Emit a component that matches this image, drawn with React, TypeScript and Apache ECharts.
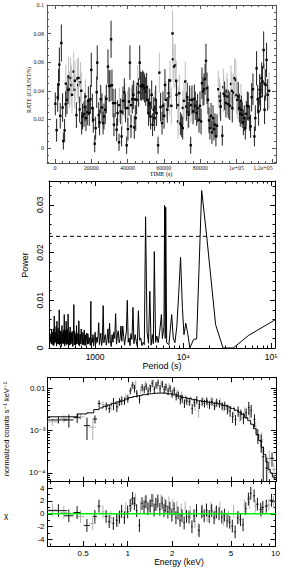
import React, { useEffect, useRef } from 'react';
import * as echarts from 'echarts';

// ---------------- Light curve (top panel) ----------------
// [time (s), rate (count/s), error]
const lcBlack: number[][] = [
  [180,0.0309,0.008],[900,0.0125,0.008],[1500,0.0353,0.010],[2000,0.0444,0.011],[2400,0.0583,0.012],
  [2900,0.0225,0.009],[3500,0.0734,0.013],[4200,0.0283,0.010],[4600,0.0049,0.006],[5300,0.0123,0.008],
  [5900,0.0307,0.009],[6600,0.0337,0.010],[7200,0.0407,0.010],[11800,0.0230,0.009],[13600,0.0269,0.009],
  [14700,0.0174,0.008],[15200,0.0220,0.009],[16000,0.0237,0.009],[16500,0.0286,0.010],[17100,0.0209,0.009],
  [17800,0.0249,0.009],[18400,0.0330,0.010],[18900,0.0244,0.009],[19500,0.0341,0.010],[20000,0.0546,0.012],
  [20600,0.0279,0.010],[21100,0.0197,0.009],[21900,0.0030,0.006],[22400,0.0139,0.008],[23000,0.0390,0.011],
  [23300,0.0597,0.012],[24100,0.0230,0.009],[24600,0.0179,0.009],[25200,0.0341,0.010],[25900,0.0283,0.010],
  [26500,0.0174,0.008],[27000,0.0220,0.009],[27700,0.0267,0.010],[28300,0.0344,0.010],[29200,0.0569,0.012],
  [29800,0.0434,0.011],[30300,0.0434,0.011],[30900,0.0760,0.013],[31400,0.0439,0.011],[32000,0.0314,0.010],
  [32500,0.0163,0.008],[33200,0.0314,0.010],[34000,0.0128,0.008],[34500,0.0244,0.009],[35300,0.0040,0.006],
  [36200,0.0256,0.009],[36700,0.0081,0.007],[37500,0.0330,0.010],[38200,0.0388,0.010],[38900,0.0279,0.010],
  [39500,0.0019,0.006],[40200,0.0132,0.008],[40800,0.0325,0.010],[41300,0.0597,0.012],[41900,0.0151,0.008],
  [42600,0.0341,0.010],[43200,0.0372,0.010],[43700,0.0144,0.008],[44500,0.0209,0.009],[45000,0.0337,0.010],
  [46100,0.0388,0.010],[46700,0.0597,0.012],[47200,0.0434,0.010],[47800,0.0430,0.010],[48300,0.0441,0.010],
  [48900,0.0434,0.010],[49400,0.0418,0.010],[50000,0.0395,0.010],[50500,0.0425,0.010],[51100,0.0337,0.010],
  [51600,0.0244,0.009],[52200,0.0314,0.010],[52700,0.0220,0.009],[53300,0.0372,0.010],[53800,0.0163,0.008],
  [54400,0.0267,0.009],[54900,0.0209,0.009],[55500,0.0337,0.010],[56000,0.0244,0.009],[56800,0.0019,0.006],
  [58200,0.0286,0.010],[59000,0.0174,0.008],[59500,0.0295,0.010],[60100,0.0225,0.009],[60600,0.0441,0.011],
  [61900,0.0267,0.009],[62600,0.0383,0.010],[67000,0.0372,0.010],[69100,0.0170,0.008],[69800,0.0156,0.008],
  [70400,0.0139,0.008],[72400,0.0290,0.010],[72900,0.0355,0.010],[73700,0.0232,0.009],[74200,0.0337,0.010],
  [74800,0.0019,0.006],[75500,0.0337,0.010],[76100,0.0256,0.009],[76800,0.0344,0.010],[77300,0.0295,0.010],
  [78100,0.0244,0.009],[78600,0.0279,0.010],[79400,0.0197,0.009],[79900,0.0295,0.010],[80500,0.0186,0.009],
  [81000,0.0453,0.011],[81600,0.0395,0.010],[82100,0.0411,0.011],[82700,0.0481,0.011],[83200,0.0609,0.012],
  [83800,0.0418,0.011],[84300,0.0337,0.010],[84900,0.0193,0.009],[85400,0.0139,0.008],[86000,0.0225,0.009],
  [86500,0.0109,0.008],[87100,0.0209,0.009],[87600,0.0132,0.008],[88200,0.0163,0.008],[88700,0.0081,0.007],
  [89300,0.0156,0.008],[91300,0.0290,0.010],[92200,0.0086,0.007],[93500,0.0365,0.010],[94200,0.0314,0.010],
  [95500,0.0307,0.010],[96300,0.0295,0.010],[97700,0.0279,0.010],[101000,0.0360,0.010],[101600,0.0279,0.010],
  [102100,0.0239,0.009],[102700,0.0267,0.010],[103200,0.0232,0.009],[103800,0.0179,0.009],[104300,0.0209,0.009],
  [104900,0.0139,0.008],[105400,0.0239,0.009],[106000,0.0295,0.010],[106500,0.0290,0.010],[107300,0.0209,0.009],
  [107800,0.0151,0.008],[108400,0.0355,0.010],[109100,0.0411,0.011],[109900,0.0081,0.007],[110400,0.0209,0.009],
  [111100,0.0557,0.012],[111700,0.0341,0.010],[112200,0.0256,0.010],[112800,0.0407,0.011],[113300,0.0360,0.010],
  [113900,0.0488,0.011],[114400,0.0465,0.011],[115000,0.0685,0.013],[115500,0.0267,0.010],[116100,0.0441,0.011],
  [116600,0.0616,0.012],[117200,0.0372,0.011],
];
const lcGray: number[][] = [
  [6000,0.0450,0.013],[7500,0.0500,0.014],[8100,0.0409,0.013],[8600,0.0490,0.014],[9000,0.0440,0.014],
  [9400,0.0372,0.013],[10300,0.0534,0.014],[10800,0.0407,0.013],[11000,0.0470,0.014],[12300,0.0486,0.014],
  [12800,0.0440,0.013],[13000,0.0490,0.014],[14100,0.0460,0.014],[14500,0.0400,0.013],[16800,0.0360,0.012],
  [35500,0.0300,0.012],[37000,0.0250,0.012],[38500,0.0330,0.012],[40000,0.0280,0.012],[42000,0.0300,0.012],
  [44000,0.0340,0.013],[45600,0.0448,0.013],[52000,0.0300,0.012],[55000,0.0280,0.012],[57500,0.0527,0.014],
  [61200,0.0337,0.013],[63000,0.0360,0.013],[63400,0.0472,0.014],[64100,0.0295,0.013],[64800,0.0801,0.016],
  [65000,0.0620,0.015],[65600,0.0569,0.015],[66300,0.0578,0.015],[66800,0.0470,0.014],[67800,0.0186,0.012],
  [68000,0.0300,0.013],[68500,0.0383,0.013],[70500,0.0280,0.012],[71100,0.0330,0.013],[71800,0.0465,0.014],
  [73000,0.0250,0.012],[75000,0.0300,0.012],[90000,0.0411,0.013],[90700,0.0360,0.013],[91000,0.0330,0.012],
  [92800,0.0425,0.013],[93000,0.0380,0.013],[94800,0.0395,0.013],[95000,0.0360,0.013],[97000,0.0448,0.013],
  [97500,0.0400,0.013],[98300,0.0388,0.013],[99000,0.0488,0.014],[99700,0.0476,0.014],[100000,0.0370,0.013],
  [100500,0.0337,0.013],[102500,0.0330,0.012],[113000,0.0380,0.013],[115500,0.0450,0.014],[118000,0.0400,0.013],
];
const lcXTicks = [0, 20000, 40000, 60000, 80000, 100000, 120000];
const lcXTickLabels = ['0', '20000', '40000', '60000', '80000', '1e+05', '1.2e+05'];
const lcXMinor = [-4000,4000,8000,12000,16000,24000,28000,32000,36000,44000,48000,52000,56000,64000,68000,72000,76000,84000,88000,92000,96000,104000,108000,112000,116000];
const lcYTicks = [0, 0.02, 0.04, 0.06, 0.08, 0.1];
const lcYTickLabels = ['0', '0.02', '0.04', '0.06', '0.08', '0.1'];
const lcYMinor = [-0.01,-0.005,0.005,0.01,0.015,0.025,0.03,0.035,0.045,0.05,0.055,0.065,0.07,0.075,0.085,0.09,0.095];

// ---------------- Periodogram (middle panel) ----------------
// [period (s), power]
const pgData: number[][] = [
  [310,0.0012],[313,0.0021],[316,0.0030],[318,0.0009],[320,0.0039],[322,0.0027],[324,0.0008],[326,0.0013],
  [328,0.0026],[330,0.0033],[332,0.0015],[334,0.0006],[336,0.0040],[338,0.0024],[340,0.0005],[342,0.0019],
  [344,0.0067],[346,0.0035],[348,0.0010],[350,0.0009],[352,0.0033],[354,0.0026],[356,0.0018],[358,0.0012],
  [361,0.0045],[363,0.0030],[365,0.0004],[367,0.0017],[369,0.0056],[371,0.0029],[373,0.0012],[375,0.0009],
  [378,0.0030],[380,0.0041],[383,0.0008],[385,0.0016],[388,0.0022],[390,0.0028],[392,0.0080],[394,0.0011],
  [396,0.0006],[398,0.0025],[401,0.0035],[403,0.0008],[406,0.0015],[408,0.0036],[411,0.0028],[413,0.0013],
  [416,0.0003],[418,0.0027],[421,0.0047],[423,0.0010],[426,0.0011],[428,0.0032],[431,0.0025],[433,0.0015],
  [436,0.0009],[439,0.0022],[442,0.0038],[444,0.0008],[447,0.0070],[449,0.0028],[452,0.0004],[455,0.0017],
  [458,0.0029],[461,0.0037],[464,0.0014],[467,0.0009],[470,0.0056],[473,0.0026],[476,0.0007],[479,0.0012],
  [482,0.0031],[485,0.0040],[488,0.0018],[491,0.0008],[494,0.0071],[497,0.0021],[500,0.0005],[503,0.0015],
  [507,0.0026],[510,0.0034],[514,0.0012],[517,0.0006],[521,0.0044],[524,0.0027],[528,0.0008],[531,0.0013],
  [535,0.0023],[538,0.0032],[542,0.0015],[546,0.0009],[550,0.0035],[554,0.0024],[558,0.0003],[562,0.0014],
  [566,0.0028],[570,0.0030],[574,0.0091],[578,0.0006],[582,0.0010],[586,0.0035],[590,0.0024],[594,0.0013],
  [598,0.0006],[602,0.0022],[607,0.0030],[611,0.0008],[616,0.0047],[620,0.0026],[625,0.0009],[629,0.0016],
  [634,0.0021],[639,0.0031],[644,0.0014],[649,0.0007],[654,0.0057],[659,0.0023],[664,0.0004],[669,0.0012],
  [674,0.0026],[679,0.0029],[685,0.0011],[690,0.0008],[696,0.0040],[701,0.0024],[707,0.0018],[712,0.0011],
  [718,0.0007],[724,0.0033],[730,0.0029],[736,0.0007],[742,0.0013],[748,0.0021],[754,0.0038],[760,0.0015],
  [766,0.0005],[772,0.0028],[779,0.0022],[785,0.0006],[792,0.0016],[799,0.0025],[806,0.0031],[813,0.0012],
  [820,0.0008],[827,0.0030],[834,0.0024],[841,0.0009],[849,0.0012],[856,0.0022],[864,0.0019],[872,0.0014],
  [880,0.0006],[887,0.0027],[895,0.0098],[903,0.0005],[911,0.0010],[920,0.0018],[928,0.0021],[936,0.0012],
  [945,0.0028],[953,0.0024],[962,0.0004],[971,0.0009],[980,0.0017],[990,0.0020],[1000,0.0033],[1020,0.0009],
  [1040,0.0022],[1060,0.0012],[1080,0.0026],[1100,0.0053],[1120,0.0007],[1140,0.0019],[1160,0.0031],[1185,0.0005],
  [1210,0.0016],[1235,0.0089],[1260,0.0011],[1285,0.0024],[1310,0.0028],[1340,0.0006],[1370,0.0018],[1400,0.0040],
  [1430,0.0010],[1460,0.0052],[1490,0.0015],[1525,0.0003],[1560,0.0028],[1595,0.0012],[1630,0.0033],[1670,0.0020],
  [1710,0.0072],[1750,0.0008],[1790,0.0026],[1830,0.0036],[1875,0.0011],[1920,0.0019],[1965,0.0046],[2010,0.0014],
  [2060,0.0046],[2110,0.0024],[2160,0.0006],[2210,0.0021],[2265,0.0035],[2320,0.0100],[2375,0.0012],[2430,0.0021],
  [2490,0.0005],[2550,0.0030],[2620,0.0018],[2690,0.0085],[2760,0.0009],[2850,0.0028],[2930,0.0014],[3010,0.0004],
  [3100,0.0078],[3190,0.0016],[3300,0.0021],[3400,0.0005],[3520,0.0012],[3620,0.0007],[3740,0.0275],[3890,0.0033],
  [4040,0.0010],[4180,0.0119],[4320,0.0006],[4460,0.0028],[4580,0.0009],[4700,0.0202],[4860,0.0012],[5020,0.0025],
  [5200,0.0011],[5400,0.0033],[5660,0.0070],[5800,0.0020],[6050,0.0045],[6150,0.0299],[6250,0.0020],[6330,0.0295],
  [6490,0.0011],[6880,0.0007],[7150,0.0040],[7400,0.0070],[7710,0.0021],[8050,0.0011],[8460,0.0045],[8880,0.0112],
  [9330,0.0190],[9790,0.0085],[10200,0.0028],[10700,0.0052],[11300,0.0028],[11900,0.0000],[13100,0.0018],
  [14200,0.0019],[16200,0.0330],[18400,0.0237],[23300,0.0049],[28300,0.0000],[36900,0.0000],[54800,0.0026],
  [110000,0.0059],
];
const pgThreshold = 0.0234;
const pgXTicks = [1000, 10000, 100000];
const pgXTickLabels = ['1000', '10⁴', '10⁵'];
const pgXMinor = [400,500,600,700,800,900,2000,3000,4000,5000,6000,7000,8000,9000,20000,30000,40000,50000,60000,70000,80000,90000];
const pgYTicks = [0, 0.01, 0.02, 0.03];
const pgYTickLabels = ['0', '0.01', '0.02', '0.03'];
const pgYMinor = [0.002,0.004,0.006,0.008,0.012,0.014,0.016,0.018,0.022,0.024,0.026,0.028,0.032,0.034];

// ---------------- Spectrum (bottom panel) ----------------
// [energy (keV), half width, normalized counts, error]
const specBlack: number[][] = [
  [0.34,0.05,0.00177,0.0003],[0.40,0.03,0.00177,0.0006],[0.455,0.025,0.0020,0.0005],[0.53,0.025,0.0013,0.0007],
  [0.60,0.02,0.00186,0.0004],[0.64,0.015,0.00436,0.0008],[0.715,0.015,0.00377,0.0008],[0.75,0.012,0.0033,0.0007],
  [0.80,0.012,0.0044,0.0014],[0.843,0.012,0.0036,0.0009],[0.88,0.012,0.0048,0.001],[0.91,0.012,0.0052,0.0012],
  [0.95,0.012,0.0050,0.001],[1.0,0.015,0.0057,0.0012],[1.04,0.015,0.0086,0.0015],[1.08,0.015,0.0118,0.0022],
  [1.11,0.015,0.0098,0.002],[1.15,0.015,0.0075,0.0015],[1.2,0.015,0.0055,0.0012],[1.25,0.015,0.0104,0.002],
  [1.29,0.015,0.0093,0.0018],[1.33,0.015,0.011,0.002],[1.37,0.015,0.0085,0.0018],[1.42,0.015,0.0098,0.002],
  [1.46,0.015,0.0129,0.0025],[1.51,0.015,0.0092,0.0018],[1.55,0.015,0.0118,0.0022],[1.60,0.015,0.0133,0.0025],
  [1.65,0.02,0.0098,0.002],[1.71,0.02,0.0124,0.0022],[1.76,0.02,0.0092,0.0018],[1.81,0.02,0.0107,0.002],
  [1.87,0.02,0.0085,0.0017],[1.93,0.02,0.0098,0.0018],[1.99,0.02,0.0074,0.0015],[2.06,0.025,0.0087,0.0016],
  [2.12,0.025,0.0064,0.0013],[2.19,0.025,0.0069,0.0014],[2.26,0.025,0.0053,0.0012],[2.33,0.025,0.0057,0.0012],
  [2.41,0.03,0.0044,0.001],[2.5,0.03,0.005,0.001],[2.6,0.03,0.0048,0.001],[2.72,0.035,0.0033,0.0009],
  [2.81,0.035,0.0046,0.001],[2.92,0.035,0.0053,0.0011],[3.04,0.04,0.0041,0.0009],[3.17,0.04,0.0048,0.001],
  [3.29,0.04,0.0044,0.0009],[3.41,0.04,0.005,0.001],[3.56,0.045,0.0041,0.0009],[3.70,0.045,0.0048,0.001],
  [3.84,0.045,0.0038,0.0008],[3.98,0.05,0.0046,0.001],[4.15,0.05,0.0043,0.0009],[4.33,0.05,0.0038,0.0008],
  [4.51,0.06,0.0039,0.0009],[4.7,0.06,0.0032,0.0008],[4.9,0.06,0.0029,0.0008],[5.1,0.07,0.0021,0.0006],
  [5.33,0.07,0.0018,0.0005],[5.55,0.07,0.0029,0.0008],[5.79,0.08,0.0024,0.0007],[6.03,0.08,0.002,0.0006],
  [6.29,0.08,0.0026,0.0007],[6.55,0.09,0.0035,0.0012],[6.8,0.1,0.0030,0.001],[7.16,0.12,0.0018,0.0006],
  [7.54,0.15,0.00078,0.0003],[7.94,0.15,0.00055,0.00025],[8.2,0.15,0.00024,0.00018],[8.66,0.2,0.000129,0.0001],
  [9.4,0.3,0.00022,0.00008],
];
const resBlackChi: number[] = [
  0.5,-0.3,0.2,-1.8,-0.4,1.2,-0.4,-1.2,-1.5,-1.0,-0.5,0.4,-0.6,0.3,1.3,2.4,1.6,0.5,-1.8,1.6,1.1,1.9,0.8,1.2,
  2.1,0.6,1.5,2.0,0.7,1.7,0.5,1.2,0.3,0.9,-0.2,0.8,-0.6,0.1,-1.0,-0.3,-1.4,-0.4,-0.5,-2.0,-0.3,0.5,-2.6,0.3,
  -0.3,0.6,-0.4,0.5,-0.6,0.3,0.0,-0.5,-0.2,-1.1,-1.3,-1.9,-2.8,-0.6,-0.9,-1.7,0.8,2.3,3.2,2.8,1.5,0.7,1.0,1.2,2.1,
];
const specGray: number[][] = [
  [0.31,0.03,0.0016,0.0003],[0.37,0.02,0.0019,0.0004],[0.48,0.03,0.0021,0.0003],[0.58,0.03,0.0012,0.0006],
  [0.68,0.02,0.0041,0.0008],[0.77,0.015,0.0038,0.0009],[0.86,0.015,0.0042,0.0009],[0.97,0.015,0.0062,0.0012],
  [1.06,0.015,0.0105,0.002],[1.13,0.015,0.0125,0.0025],[1.22,0.015,0.0090,0.0018],[1.31,0.015,0.0123,0.0025],
  [1.40,0.015,0.0105,0.002],[1.49,0.015,0.0135,0.0025],[1.58,0.015,0.0112,0.002],[1.68,0.02,0.0130,0.0025],
  [1.78,0.02,0.0102,0.002],[1.9,0.02,0.0112,0.002],[2.02,0.025,0.0090,0.0017],[2.15,0.025,0.0078,0.0015],
  [2.3,0.025,0.0068,0.0014],[2.45,0.03,0.0058,0.0012],[2.65,0.03,0.0052,0.0011],[2.85,0.035,0.0038,0.0009],
  [3.0,0.04,0.0029,0.0009],[3.2,0.04,0.0052,0.001],[3.45,0.04,0.0044,0.001],[3.65,0.045,0.0052,0.001],
  [3.9,0.05,0.0042,0.0009],[4.2,0.05,0.0048,0.001],[4.45,0.06,0.0036,0.0008],[4.8,0.06,0.0034,0.0008],
  [5.2,0.07,0.0030,0.0008],[5.65,0.08,0.0022,0.0006],[6.15,0.08,0.0028,0.0008],[6.65,0.1,0.0026,0.0009],
  [7.3,0.15,0.0012,0.0004],[8.0,0.2,0.0006,0.0003],[9.0,0.3,0.00022,0.00012],[9.7,0.3,0.00012,0.00005],
];
const resGrayChi: number[] = [
  0.6,0.2,-0.4,-1.5,0.3,-0.6,-1.0,0.8,1.6,2.2,1.0,1.8,1.3,2.0,1.4,2.1,1.5,1.7,1.3,1.0,0.6,0.9,0.2,-1.2,
  -2.4,0.5,-0.3,0.9,0.0,1.0,-0.8,-0.5,0.4,-0.5,1.2,1.8,1.2,0.3,1.4,1.8,
];
const modelE: number[] = [0.29,0.35,0.42,0.5,0.56,0.62,0.66,0.70,0.75,0.80,0.86,0.92,0.98,1.05,1.12,1.2,1.3,1.4,1.5,1.6,1.75,1.9,2.05,2.2,2.4,2.6,2.8,3.0,3.3,3.6,3.9,4.2,4.5,4.8,5.1,5.4,5.7,6.0,6.3,6.6,6.9,7.2,7.5,7.8,8.1,8.4,8.7,9.0,9.3,9.6,10.0];
const modelF: number[] = [0.0021,0.0021,0.0021,0.00245,0.0026,0.0031,0.0034,0.0037,0.0040,0.0043,0.0047,0.0050,0.0055,0.0060,0.0063,0.0066,0.0070,0.0073,0.0075,0.0076,0.0076,0.0073,0.0069,0.0065,0.0060,0.0057,0.0053,0.0050,0.0048,0.0046,0.0044,0.0042,0.0039,0.0036,0.0033,0.0030,0.0027,0.0024,0.0020,0.0017,0.0014,0.0011,0.00080,0.00058,0.00040,0.00027,0.00018,0.00012,0.00010,0.00008,0.00007];
const specXTicks = [0.5, 1, 2, 5, 10];
const specXTickLabels = ['0.5', '1', '2', '5', '10'];
const specXMinor = [0.3,0.4,0.6,0.7,0.8,0.9,3,4,6,7,8,9];
const specYTicks = [1e-4, 1e-3, 1e-2];
const specYTickLabels = ['10⁻⁴', '10⁻³', '0.01'];
const specYMinor = [7e-5,8e-5,9e-5,2e-4,3e-4,4e-4,5e-4,6e-4,7e-4,8e-4,9e-4,2e-3,3e-3,4e-3,5e-3,6e-3,7e-3,8e-3,9e-3];
const resYTicks = [-4, -2, 0, 2, 4];
const resYTickLabels = ['-4', '-2', '0', '2', '4'];
const resYMinor = [-3, -1, 1, 3];

const SERIF = '"Liberation Serif", "DejaVu Serif", serif';
const SANS = '"Liberation Sans", Arial, "DejaVu Sans", sans-serif';

const LC = { xMin: -4400, xMax: 121800, yMin: -0.0105, yMax: 0.1 };
const PG = { xMin: 300, xMax: 110000, yMin: 0, yMax: 0.035 };
const SP = { xMin: 0.287, xMax: 10, yMin: 6.2e-5, yMax: 0.0179 };
const RS = { yMin: -5, yMax: 5 };

function nearestLabel(ticks: number[], labels: string[], v: number, log: boolean) {
  let best = 0;
  let bd = Infinity;
  ticks.forEach((t, i) => {
    const d = log ? Math.abs(Math.log10(t) - Math.log10(v)) : Math.abs(t - v);
    if (d < bd) { bd = d; best = i; }
  });
  return labels[best];
}

function buildOption() {
  const grids: any[] = [];
  const xAxes: any[] = [];
  const yAxes: any[] = [];
  const series: any[] = [];

  function frame(s: any) {
    const g = grids.length;
    grids.push({ ...s.rect, show: false });
    grids.push({ ...s.rect, show: false });
    const xi = xAxes.length;
    const yi = yAxes.length;
    const ax = (type: string, min: number, max: number, gridIndex: number, position: string, ticks: number[], len: number, showLine: boolean, label: any) => ({
      type, min, max, gridIndex, position,
      splitLine: { show: false }, splitArea: { show: false }, minorTick: { show: false }, minorSplitLine: { show: false },
      axisLine: { show: showLine, onZero: false, lineStyle: { color: s.color, width: 1 } },
      axisTick: { show: true, inside: true, length: len, customValues: ticks, lineStyle: { color: s.color, width: 1 } },
      axisLabel: label ? { show: true, ...label } : { show: false },
      axisPointer: { show: false },
      silent: true,
    });
    xAxes.push(ax(s.xType, s.xMin, s.xMax, g, 'bottom', s.xMajor, s.majLen, true, s.xLabel));
    xAxes.push(ax(s.xType, s.xMin, s.xMax, g, 'top', s.xMajor, s.majLen, true, null));
    xAxes.push(ax(s.xType, s.xMin, s.xMax, g + 1, 'bottom', s.xMinor, s.minLen, false, null));
    xAxes.push(ax(s.xType, s.xMin, s.xMax, g + 1, 'top', s.xMinor, s.minLen, false, null));
    yAxes.push(ax(s.yType, s.yMin, s.yMax, g, 'left', s.yMajor, s.majLen, true, s.yLabel));
    yAxes.push(ax(s.yType, s.yMin, s.yMax, g, 'right', s.yMajor, s.majLen, true, null));
    yAxes.push(ax(s.yType, s.yMin, s.yMax, g + 1, 'left', s.yMinor, s.minLen, false, null));
    yAxes.push(ax(s.yType, s.yMin, s.yMax, g + 1, 'right', s.yMinor, s.minLen, false, null));
    return { xi, yi };
  }

  // ---- Panel 1: light curve
  const p1 = frame({
    rect: { left: 47, top: 5, width: 229, height: 158 }, color: '#555', majLen: 4, minLen: 2,
    xType: 'value', xMin: LC.xMin, xMax: LC.xMax, yType: 'value', yMin: LC.yMin, yMax: LC.yMax,
    xMajor: lcXTicks, xMinor: lcXMinor, yMajor: lcYTicks, yMinor: lcYMinor,
    xLabel: { customValues: lcXTicks, formatter: (v: number) => nearestLabel(lcXTicks, lcXTickLabels, v, false), fontFamily: SERIF, fontSize: 6, color: '#222', margin: 2, alignMaxLabel: 'right' },
    yLabel: { customValues: lcYTicks, formatter: (v: number) => nearestLabel(lcYTicks, lcYTickLabels, v, false), fontFamily: SERIF, fontSize: 6, color: '#222', margin: 3 },
  });
  const lcRender = (color: string) => (params: any, api: any) => {
    const t = api.value(0), r = api.value(1), e = api.value(2);
    const top = api.coord([t, Math.min(r + e, LC.yMax)]);
    const bot = api.coord([t, Math.max(r - e, LC.yMin)]);
    const c = api.coord([t, r]);
    return {
      type: 'group',
      children: [
        { type: 'line', shape: { x1: top[0], y1: top[1], x2: bot[0], y2: bot[1] }, style: { stroke: color, lineWidth: 1 } },
        { type: 'rect', shape: { x: c[0] - 1.2, y: c[1] - 1.2, width: 2.4, height: 2.4 }, style: { fill: '#000' } },
      ],
    };
  };
  series.push({ type: 'custom', xAxisIndex: p1.xi, yAxisIndex: p1.yi, data: lcGray, encode: { x: 0, y: 1 }, renderItem: lcRender('#bdbdbd'), silent: true, z: 3 });
  series.push({ type: 'custom', xAxisIndex: p1.xi, yAxisIndex: p1.yi, data: lcBlack, encode: { x: 0, y: 1 }, renderItem: lcRender('#1e1e1e'), silent: true, z: 4 });

  // ---- Panel 2: periodogram
  const p2 = frame({
    rect: { left: 49, top: 181, width: 226, height: 167 }, color: '#000', majLen: 5, minLen: 2.5,
    xType: 'log', xMin: PG.xMin, xMax: PG.xMax, yType: 'value', yMin: PG.yMin, yMax: PG.yMax,
    xMajor: pgXTicks, xMinor: pgXMinor, yMajor: pgYTicks, yMinor: pgYMinor,
    xLabel: { customValues: pgXTicks, formatter: (v: number) => nearestLabel(pgXTicks, pgXTickLabels, v, true), fontFamily: SANS, fontSize: 8.5, color: '#000', margin: 4 },
    yLabel: { customValues: pgYTicks, rotate: 90, formatter: (v: number) => nearestLabel(pgYTicks, pgYTickLabels, v, false), fontFamily: SANS, fontSize: 8.5, color: '#000', margin: 5 },
  });
  series.push({ type: 'line', xAxisIndex: p2.xi, yAxisIndex: p2.yi, data: pgData, symbol: 'none', showSymbol: false, lineStyle: { color: '#000', width: 1 }, silent: true, z: 3 });
  series.push({ type: 'line', xAxisIndex: p2.xi, yAxisIndex: p2.yi, data: [[PG.xMin, pgThreshold], [PG.xMax, pgThreshold]], symbol: 'none', lineStyle: { color: '#000', width: 1, type: [4, 3] }, silent: true, z: 4 });

  // ---- Panel 3a: spectrum
  const p3 = frame({
    rect: { left: 47.5, top: 377.3, width: 228.5, height: 104.4 }, color: '#000', majLen: 5, minLen: 2.5,
    xType: 'log', xMin: SP.xMin, xMax: SP.xMax, yType: 'log', yMin: SP.yMin, yMax: SP.yMax,
    xMajor: specXTicks, xMinor: specXMinor, yMajor: specYTicks, yMinor: specYMinor,
    xLabel: null,
    yLabel: { customValues: specYTicks, formatter: (v: number) => nearestLabel(specYTicks, specYTickLabels, v, true), fontFamily: SANS, fontSize: 8, color: '#000', margin: 2 },
  });
  const crossRender = (color: string, yMin: number, yMax: number, log: boolean) => (params: any, api: any) => {
    const x = api.value(0), dx = api.value(1), y = api.value(2), dy = api.value(3);
    let lo = y - dy;
    if (log && lo <= 0) lo = yMin;
    lo = Math.max(lo, yMin);
    const hi = Math.min(y + dy, yMax);
    const a = api.coord([Math.max(x - dx, SP.xMin), y]);
    const b = api.coord([Math.min(x + dx, SP.xMax), y]);
    const c = api.coord([x, lo]);
    const d = api.coord([x, hi]);
    return {
      type: 'group',
      children: [
        { type: 'line', shape: { x1: a[0], y1: a[1], x2: b[0], y2: b[1] }, style: { stroke: color, lineWidth: 1 } },
        { type: 'line', shape: { x1: c[0], y1: c[1], x2: d[0], y2: d[1] }, style: { stroke: color, lineWidth: 1 } },
      ],
    };
  };
  series.push({ type: 'custom', xAxisIndex: p3.xi, yAxisIndex: p3.yi, data: specGray, encode: { x: 0, y: 2 }, renderItem: crossRender('#b0b0b0', SP.yMin, SP.yMax, true), silent: true, z: 3 });
  series.push({ type: 'custom', xAxisIndex: p3.xi, yAxisIndex: p3.yi, data: specBlack, encode: { x: 0, y: 2 }, renderItem: crossRender('#111', SP.yMin, SP.yMax, true), silent: true, z: 4 });
  series.push({ type: 'line', xAxisIndex: p3.xi, yAxisIndex: p3.yi, data: modelE.map((e, i) => [e, modelF[i]]), step: 'middle', symbol: 'none', lineStyle: { color: '#000', width: 1 }, silent: true, z: 5 });

  // ---- Panel 3b: residuals
  const p4 = frame({
    rect: { left: 47.5, top: 481.7, width: 228.5, height: 64.3 }, color: '#000', majLen: 5, minLen: 2.5,
    xType: 'log', xMin: SP.xMin, xMax: SP.xMax, yType: 'value', yMin: RS.yMin, yMax: RS.yMax,
    xMajor: specXTicks, xMinor: specXMinor, yMajor: resYTicks, yMinor: resYMinor,
    xLabel: { customValues: specXTicks, formatter: (v: number) => nearestLabel(specXTicks, specXTickLabels, v, true), fontFamily: SANS, fontSize: 8, color: '#000', margin: 3 },
    yLabel: { customValues: resYTicks, formatter: (v: number) => nearestLabel(resYTicks, resYTickLabels, v, false), fontFamily: SANS, fontSize: 8, color: '#000', margin: 3 },
  });
  const resGray = specGray.map((d, i) => [d[0], d[1], resGrayChi[i], 1]);
  const resBlack = specBlack.map((d, i) => [d[0], d[1], resBlackChi[i], 1]);
  series.push({ type: 'custom', xAxisIndex: p4.xi, yAxisIndex: p4.yi, data: resGray, encode: { x: 0, y: 2 }, renderItem: crossRender('#b0b0b0', RS.yMin, RS.yMax, false), silent: true, z: 3 });
  series.push({ type: 'custom', xAxisIndex: p4.xi, yAxisIndex: p4.yi, data: resBlack, encode: { x: 0, y: 2 }, renderItem: crossRender('#111', RS.yMin, RS.yMax, false), silent: true, z: 4 });
  series.push({ type: 'line', xAxisIndex: p4.xi, yAxisIndex: p4.yi, data: [[SP.xMin, 0], [SP.xMax, 0]], symbol: 'none', lineStyle: { color: '#00ee00', width: 1.5 }, silent: true, z: 6 });

  const txt = (text: string, x: number, y: number, font: string, rot = 0) => ({
    type: 'text', x, y, rotation: rot, silent: true, z: 10,
    style: { text, font, fill: '#000', align: 'center', verticalAlign: 'middle', textAlign: 'center', textVerticalAlign: 'middle' },
  });

  return {
    animation: false,
    backgroundColor: '#fff',
    grid: grids,
    xAxis: xAxes,
    yAxis: yAxes,
    series,
    graphic: [
      txt('RATE (COUNT/S)', 29, 90, `6px ${SERIF}`, Math.PI / 2),
      txt('TIME (s)', 161, 174, `6px ${SERIF}`),
      txt('Power', 25, 265, `9px ${SANS}`, Math.PI / 2),
      txt('Period (s)', 162, 366, `9px ${SANS}`),
      txt('normalized counts s⁻¹ keV⁻¹', 6, 429, `7.5px ${SANS}`, Math.PI / 2),
      txt('χ', 6, 515, `8px ${SANS}`),
      txt('Energy (keV)', 179, 562, `8.5px ${SANS}`),
    ],
  };
}

export default function App() {
  const ref = useRef<HTMLDivElement>(null);
  useEffect(() => {
    if (!ref.current) return;
    const chart = echarts.init(ref.current, undefined, { renderer: 'svg' });
    chart.setOption(buildOption() as any);
    return () => chart.dispose();
  }, []);
  return <div ref={ref} style={{ position: 'absolute', left: 0, top: 0, width: 283, height: 568, background: '#fff' }} />;
}
